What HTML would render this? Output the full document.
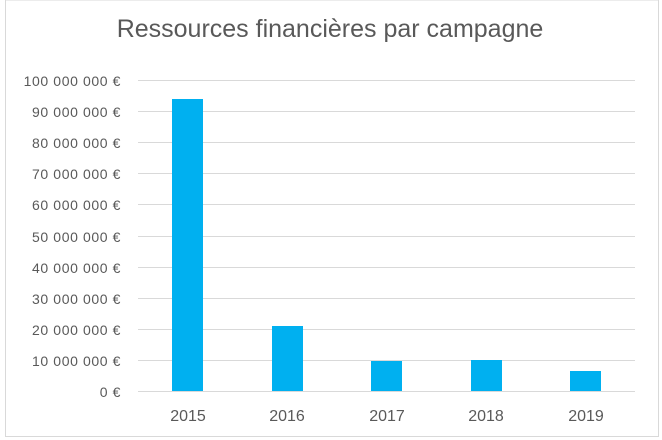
<!DOCTYPE html>
<html><head><style>
body{margin:0;background:#fff;}
svg{display:block;font-family:"Liberation Sans",sans-serif;}
</style></head><body>
<svg width="662" height="440" xmlns="http://www.w3.org/2000/svg">
<rect x="5.5" y="0" width="653" height="436.5" fill="#fff" stroke="#d9d9d9"/>
<text x="330" y="37" text-anchor="middle" font-size="25" fill="#595959">Ressources financières par campagne</text>
<g stroke="#d9d9d9" stroke-width="1">
<line x1="138" x2="635" y1="80.5" y2="80.5"/>
<line x1="138" x2="635" y1="111.5" y2="111.5"/>
<line x1="138" x2="635" y1="142.5" y2="142.5"/>
<line x1="138" x2="635" y1="173.5" y2="173.5"/>
<line x1="138" x2="635" y1="204.5" y2="204.5"/>
<line x1="138" x2="635" y1="236.5" y2="236.5"/>
<line x1="138" x2="635" y1="267.5" y2="267.5"/>
<line x1="138" x2="635" y1="298.5" y2="298.5"/>
<line x1="138" x2="635" y1="329.5" y2="329.5"/>
<line x1="138" x2="635" y1="360.5" y2="360.5"/>
<line x1="138" x2="635" y1="391.5" y2="391.5"/>
</g>
<g font-size="14" letter-spacing="0.6" fill="#595959" text-anchor="end">
<text x="121" y="86">100 000 000 €</text>
<text x="121" y="117">90 000 000 €</text>
<text x="121" y="148">80 000 000 €</text>
<text x="121" y="179">70 000 000 €</text>
<text x="121" y="210">60 000 000 €</text>
<text x="121" y="242">50 000 000 €</text>
<text x="121" y="273">40 000 000 €</text>
<text x="121" y="304">30 000 000 €</text>
<text x="121" y="335">20 000 000 €</text>
<text x="121" y="366">10 000 000 €</text>
<text x="121" y="397">0 €</text>
</g>
<g fill="#00b0f0">
<rect x="172" y="99" width="31" height="292"/>
<rect x="272" y="326" width="31" height="65"/>
<rect x="371" y="361" width="31" height="30"/>
<rect x="471" y="360" width="31" height="31"/>
<rect x="570" y="371" width="31" height="20"/>
</g>
<g font-size="16" fill="#595959" text-anchor="middle">
<text x="188" y="421">2015</text>
<text x="287" y="421">2016</text>
<text x="387" y="421">2017</text>
<text x="486" y="421">2018</text>
<text x="586" y="421">2019</text>
</g>
</svg>
</body></html>
